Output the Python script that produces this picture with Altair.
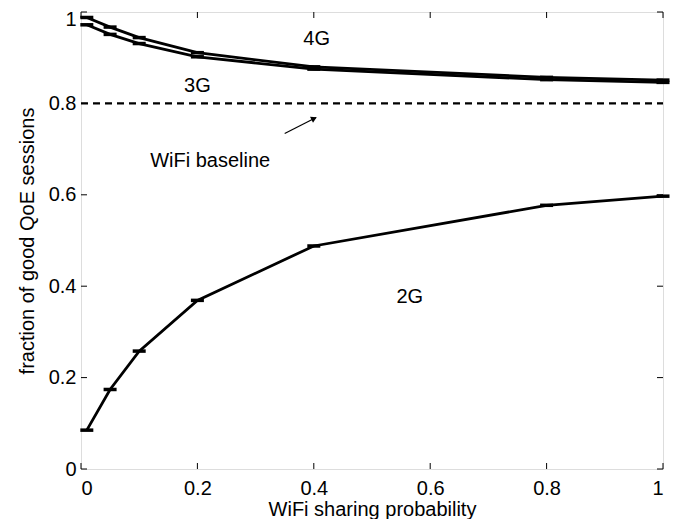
import altair as alt
import pandas as pd

x_vals = [0.01, 0.05, 0.1, 0.2, 0.4, 0.8, 1.0]
y_4g = [0.988, 0.967, 0.944, 0.911, 0.880, 0.857, 0.851]
y_3g = [0.972, 0.951, 0.931, 0.902, 0.875, 0.852, 0.846]
y_2g = [0.085, 0.174, 0.258, 0.369, 0.488, 0.577, 0.597]
baseline = 0.8
tick_vals = [0, 0.2, 0.4, 0.6, 0.8, 1.0]

rows = []
for name, ys in [("4G", y_4g), ("3G", y_3g), ("2G", y_2g)]:
    for x, y in zip(x_vals, ys):
        rows.append({"x": x, "y": y, "s": name})
df = pd.DataFrame(rows)

W, H = 582, 457
xs = alt.Scale(domain=[0, 1], nice=False, zero=False)
ys_ = alt.Scale(domain=[0, 1], nice=False, zero=False)
FONT = "Liberation Sans"
FS = 20
LBL = "datum.value == 0 ? '0' : datum.value == 1 ? '1' : format(datum.value, '.1f')"

X = alt.X("x:Q", scale=xs, axis=alt.Axis(values=tick_vals, ticks=False, domain=False, grid=False,
          labelFontSize=FS, labelFont=FONT, labelColor="black", labelPadding=9,
          labelExpr=LBL,
          title="WiFi sharing probability", titleFontSize=FS, titleFont=FONT,
          titleFontWeight="normal", titleColor="black", titlePadding=1))
Y = alt.Y("y:Q", scale=ys_, axis=alt.Axis(values=tick_vals, ticks=False, domain=False, grid=False,
          labelFontSize=FS, labelFont=FONT, labelColor="black", labelPadding=5,
          labelExpr=LBL,
          labelOffset={"condition": {"test": "datum.value == 1", "value": 7}, "value": 0},
          title="fraction of good QoE sessions", titleFontSize=FS, titleFont=FONT,
          titleFontWeight="normal", titleColor="black", titlePadding=11))

lines = alt.Chart(df).mark_line(color="black", strokeWidth=2.8).encode(
    x=X, y=Y, detail="s:N")
bars = alt.Chart(df).mark_tick(color="black", thickness=3.5, size=13, orient="horizontal",
                               opacity=1).encode(x="x:Q", y="y:Q")

base_df = pd.DataFrame({"x": [0.0], "x2": [1.0], "y": [baseline]})
dash = alt.Chart(base_df).mark_rule(color="black", strokeWidth=2.2, strokeDash=[7, 5]).encode(
    x="x:Q", x2="x2:Q", y="y:Q")

# inward tick marks (bottom/top/left/right)
tdf = pd.DataFrame({"v": tick_vals})
tk_bottom = alt.Chart(tdf).mark_rule(color="black", strokeWidth=1).encode(
    x="v:Q", y=alt.value(H), y2=alt.value(H - 6))
tk_top = alt.Chart(tdf).mark_rule(color="black", strokeWidth=1).encode(
    x="v:Q", y=alt.value(0), y2=alt.value(6))
tk_left = alt.Chart(tdf).mark_rule(color="black", strokeWidth=1).encode(
    y="v:Q", x=alt.value(0), x2=alt.value(6))
tk_right = alt.Chart(tdf).mark_rule(color="black", strokeWidth=1).encode(
    y="v:Q", x=alt.value(W), x2=alt.value(W - 6))

lab_df = pd.DataFrame({
    "x": [0.405, 0.2, 0.222, 0.565],
    "y": [0.941, 0.838, 0.675, 0.376],
    "t": ["4G", "3G", "WiFi baseline", "2G"],
})
labels = alt.Chart(lab_df).mark_text(font=FONT, fontSize=FS, color="black").encode(
    x="x:Q", y="y:Q", text="t:N")

arr_df = pd.DataFrame({"x": [0.35], "y": [0.734], "x2": [0.404], "y2": [0.769]})
arrow_line = alt.Chart(arr_df).mark_rule(color="black", strokeWidth=1.2).encode(
    x="x:Q", y="y:Q", x2="x2:Q", y2="y2:Q")
head_df = pd.DataFrame({"x": [0.399], "y": [0.766]})
arrow_head = alt.Chart(head_df).mark_point(shape="triangle", filled=True, color="black",
                                           size=45, angle=63, opacity=1).encode(x="x:Q", y="y:Q")

chart = alt.layer(lines, bars, dash, tk_bottom, tk_top, tk_left, tk_right, labels,
                  arrow_line, arrow_head).properties(
    width=W, height=H,
    autosize=alt.AutoSizeParams(type="none"),
    padding={"left": 73, "top": 4, "right": 10, "bottom": 50},
).configure_view(stroke="black", strokeWidth=1.2).configure(background="white")

chart.save("out.html", embed_options={"renderer": "svg", "actions": False})
